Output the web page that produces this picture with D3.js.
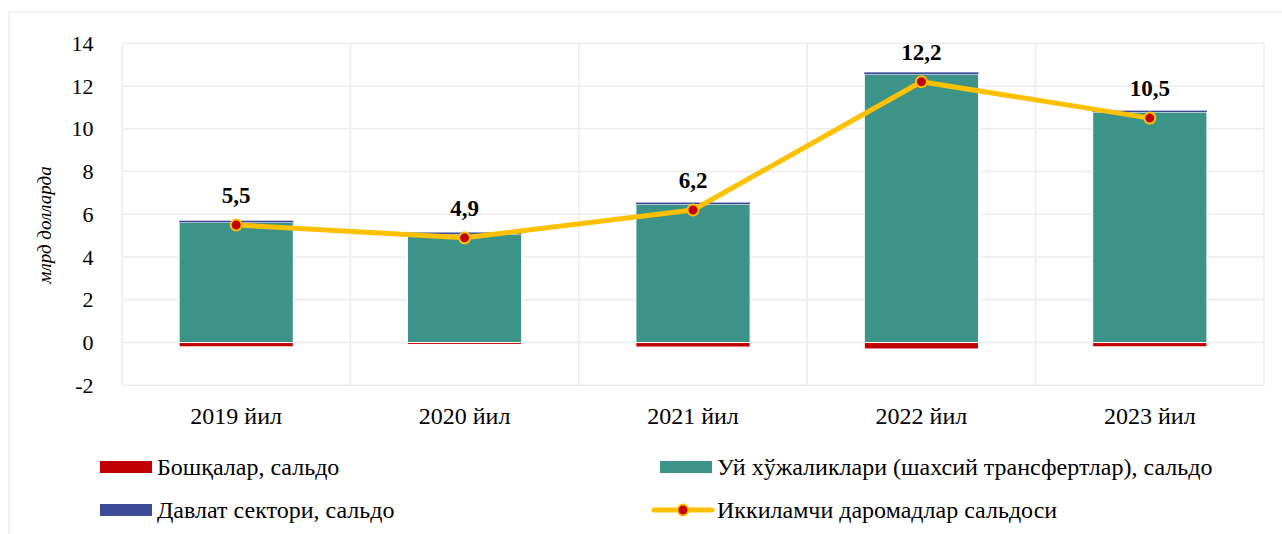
<!DOCTYPE html>
<html>
<head>
<meta charset="utf-8">
<script src="https://cdn.jsdelivr.net/npm/d3@7"></script>
</head>
<body style="margin: 0; background: #fff">
<div id="chart"></div>
<script>
// данные
const years = ['2019 йил', '2020 йил', '2021 йил', '2022 йил', '2023 йил']
const households = [5.62, 5.08, 6.47, 12.55, 10.78] // Уй хўжаликлари
const government = [0.08, 0.07, 0.08, 0.09, 0.07] // Давлат сектори
const others = [-0.2, -0.09, -0.21, -0.3, -0.2] // Бошқалар
const totalBalance = [5.5, 4.9, 6.2, 12.2, 10.5] // Иккиламчи даромадлар сальдоси
const totalLabels = ['5,5', '4,9', '6,2', '12,2', '10,5']
const yTicks = [-2, 0, 2, 4, 6, 8, 10, 12, 14]

const width = 1282
const height = 534
const margin = { top: 43.3, right: 18, bottom: 148.7, left: 122 }
const serif = "'Liberation Serif'"

const colors = {
  others: '#C00000',
  households: '#3C9488',
  government: '#3C4A98',
  line: '#FFC000',
}

const svg = d3
  .select('#chart')
  .append('svg')
  .attr('width', width)
  .attr('height', height)
  .style('display', 'block')
  .style('font-family', serif)

// рамка диаграммы
svg
  .append('rect')
  .attr('x', 9)
  .attr('y', 12)
  .attr('width', width)
  .attr('height', height)
  .attr('fill', 'none')
  .attr('stroke', '#eeeeee')
  .attr('stroke-width', 1.5)

const x = d3
  .scaleBand()
  .domain(years)
  .range([margin.left, width - margin.right])
  .paddingInner(0)
  .paddingOuter(0)

const y = d3
  .scaleLinear()
  .domain([-2, 14])
  .range([height - margin.bottom, margin.top])

// сетка
svg
  .append('g')
  .selectAll('line')
  .data(yTicks)
  .join('line')
  .attr('x1', margin.left)
  .attr('x2', width - margin.right)
  .attr('y1', (d) => y(d))
  .attr('y2', (d) => y(d))
  .attr('stroke', '#ececec')
  .attr('stroke-width', 1.5)

svg
  .append('g')
  .selectAll('line')
  .data(d3.range(years.length + 1))
  .join('line')
  .attr('x1', (i) => margin.left + i * x.step())
  .attr('x2', (i) => margin.left + i * x.step())
  .attr('y1', y(14))
  .attr('y2', y(-2))
  .attr('stroke', '#ececec')
  .attr('stroke-width', 1.5)

// ось Y
const yAxis = svg
  .append('g')
  .attr('transform', 'translate(93.5,0)')
  .call(
    d3
      .axisLeft(y)
      .tickValues(yTicks)
      .tickSize(0)
      .tickPadding(0)
      .tickFormat((d) => String(d)),
  )
yAxis.attr('font-family', null).attr('font-size', null)
yAxis.select('.domain').remove()
yAxis.selectAll('text').style('font-family', serif).attr('font-size', 22).attr('fill', '#000')

// ось X
const xAxis = svg
  .append('g')
  .attr('transform', `translate(0,${y(-2)})`)
  .call(d3.axisBottom(x).tickSize(0).tickPadding(22))
xAxis.attr('font-family', null).attr('font-size', null)
xAxis.select('.domain').remove()
xAxis.selectAll('text').style('font-family', serif).attr('font-size', 24).attr('fill', '#000')

svg
  .append('text')
  .attr('transform', 'translate(51,225) rotate(-90)')
  .attr('text-anchor', 'middle')
  .attr('font-style', 'italic')
  .attr('font-size', 19)
  .text('млрд долларда')

// столбцы
const barW = x.bandwidth() * 0.5
const barX = (i) => x(years[i]) + (x.bandwidth() - barW) / 2
const bars = svg.append('g').attr('stroke', '#ffffff').attr('stroke-width', 1)

bars
  .selectAll('rect.hh')
  .data(households)
  .join('rect')
  .attr('class', 'hh')
  .attr('x', (d, i) => barX(i))
  .attr('y', (d) => y(d))
  .attr('width', barW)
  .attr('height', (d) => y(0) - y(d))
  .attr('fill', colors.households)

bars
  .selectAll('rect.gov')
  .data(government)
  .join('rect')
  .attr('class', 'gov')
  .attr('x', (d, i) => barX(i))
  .attr('y', (d, i) => y(households[i] + d))
  .attr('width', barW)
  .attr('height', (d, i) => y(households[i]) - y(households[i] + d))
  .attr('fill', colors.government)
  .attr('stroke', 'none')

bars
  .selectAll('rect.oth')
  .data(others)
  .join('rect')
  .attr('class', 'oth')
  .attr('x', (d, i) => barX(i))
  .attr('y', y(0))
  .attr('width', barW)
  .attr('height', (d) => y(d) - y(0))
  .attr('fill', colors.others)

// линия сальдо
const line = d3
  .line()
  .x((d, i) => x(years[i]) + x.bandwidth() / 2)
  .y((d) => y(d))

svg
  .append('path')
  .datum(totalBalance)
  .attr('d', line)
  .attr('fill', 'none')
  .attr('stroke', colors.line)
  .attr('stroke-width', 5)
  .attr('stroke-linejoin', 'round')

svg
  .append('g')
  .selectAll('circle')
  .data(totalBalance)
  .join('circle')
  .attr('cx', (d, i) => x(years[i]) + x.bandwidth() / 2)
  .attr('cy', (d) => y(d))
  .attr('r', 5.5)
  .attr('fill', colors.others)
  .attr('stroke', colors.line)
  .attr('stroke-width', 2)

svg
  .append('g')
  .selectAll('text')
  .data(totalBalance)
  .join('text')
  .attr('x', (d, i) => x(years[i]) + x.bandwidth() / 2)
  .attr('y', (d) => y(d) - 22)
  .attr('text-anchor', 'middle')
  .attr('font-weight', 'bold')
  .attr('font-size', 23)
  .text((d, i) => totalLabels[i])

// легенда
const legendItems = [
  { name: 'Бошқалар, сальдо', color: colors.others, type: 'rect', x: 100, y: 467 },
  { name: 'Уй хўжаликлари (шахсий трансфертлар), сальдо', color: colors.households, type: 'rect', x: 660, y: 467 },
  { name: 'Давлат сектори, сальдо', color: colors.government, type: 'rect', x: 100, y: 510 },
  { name: 'Иккиламчи даромадлар сальдоси', color: colors.line, type: 'line', x: 654, y: 510 },
]

const legend = svg
  .append('g')
  .selectAll('g')
  .data(legendItems)
  .join('g')
  .attr('transform', (d) => `translate(${d.x},${d.y})`)

legend
  .filter((d) => d.type === 'rect')
  .append('rect')
  .attr('x', 0)
  .attr('y', -6)
  .attr('width', 52)
  .attr('height', 12)
  .attr('fill', (d) => d.color)

const lineLegend = legend.filter((d) => d.type === 'line')
lineLegend
  .append('line')
  .attr('x1', 0)
  .attr('x2', 58)
  .attr('stroke', colors.line)
  .attr('stroke-width', 5)
  .attr('stroke-linecap', 'round')
lineLegend
  .append('circle')
  .attr('cx', 29)
  .attr('r', 5.5)
  .attr('fill', colors.others)
  .attr('stroke', colors.line)
  .attr('stroke-width', 2)

legend
  .append('text')
  .attr('x', (d) => (d.type === 'line' ? 63 : 57))
  .attr('dy', '0.32em')
  .attr('font-size', 24)
  .text((d) => d.name)
</script>
</body>
</html>
